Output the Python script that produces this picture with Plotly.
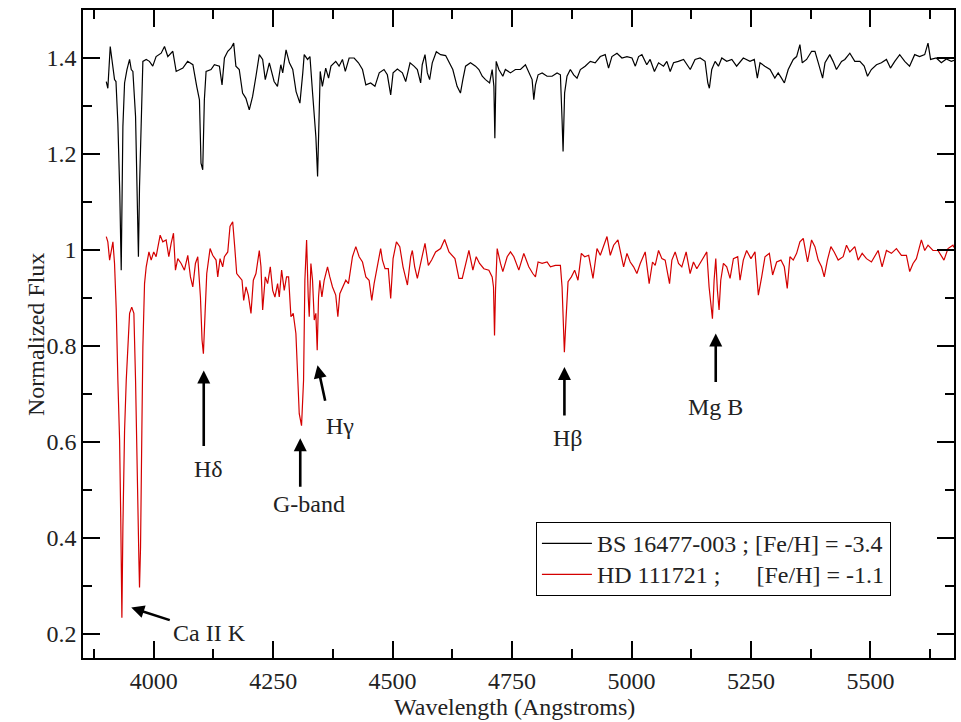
import plotly.graph_objects as go

# BS 16477-003 (black), wavelength in Angstrom, normalized flux (offset)
bs_wave = [3900.7, 3904, 3909, 3913, 3918, 3921, 3925, 3929, 3932, 3935.5, 3939, 3944, 3949.5, 3953, 3956.4,
           3962, 3965.5, 3968, 3970.3, 3973.8, 3977.3, 3984.3, 3991, 3998, 4005, 4015.6, 4022.6, 4029.5,
           4040, 4047, 4061, 4071, 4082, 4090, 4095.7, 4099, 4102.6, 4106, 4109.6, 4120, 4127, 4137.5,
           4143, 4148, 4155, 4162, 4167.4, 4172, 4179, 4186, 4193, 4200, 4207, 4214, 4221, 4228, 4233.5,
           4242, 4252, 4259, 4266, 4270, 4277, 4284, 4291, 4298, 4306, 4312, 4315, 4322, 4327, 4332.5,
           4339.4, 4343, 4346, 4348.5, 4353, 4360, 4366, 4371, 4381, 4388, 4395, 4401, 4409, 4419.5,
           4428.5, 4437, 4444, 4454, 4463, 4472, 4482, 4489, 4496, 4501, 4510, 4520.5, 4527.4, 4536.5,
           4544.8, 4551.8, 4558.7, 4562, 4567.8, 4572.7, 4577.5, 4583, 4591.5, 4600.5, 4611, 4618, 4626,
           4635, 4642, 4647, 4652.7, 4663, 4673.6, 4680.6, 4687.6, 4694.5, 4703, 4708.4, 4712, 4714,
           4716.8, 4722.4, 4730.7, 4736, 4746.7, 4757, 4767.6, 4778, 4785, 4792, 4795.5, 4799, 4804.5,
           4813, 4823.3, 4833.8, 4844.2, 4851.2, 4854.7, 4856.8, 4860, 4865, 4872, 4879, 4886, 4893,
           4903, 4913.8, 4924, 4934.7, 4945, 4952, 4959, 4969.6, 4980, 4990.5, 5001, 5008, 5014.8,
           5021.8, 5032, 5039, 5048, 5056.6, 5067, 5074, 5081, 5088, 5098, 5109, 5123, 5133, 5143.6,
           5154, 5159.7, 5163, 5168, 5175, 5182, 5189, 5199.3, 5210, 5220, 5234, 5248, 5257, 5263.4,
           5269, 5279, 5290, 5300, 5307, 5314, 5320, 5328, 5338.6, 5345.6, 5352.5, 5357.4, 5366.5, 5377,
           5384, 5391, 5400, 5405, 5415, 5422, 5429, 5439.6, 5446.5, 5457, 5467.4, 5478, 5487, 5494,
           5502, 5512.7, 5523, 5533.6, 5542, 5551, 5561.4, 5571.9, 5582, 5592.7, 5603, 5613.7, 5620.6,
           5626, 5638, 5648.5, 5659, 5669.4, 5675]
bs_flux = [1.351, 1.337, 1.424, 1.397, 1.355, 1.351, 1.264, 1.118, 0.958, 1.257, 1.348, 1.376, 1.397, 1.376, 1.372,
           1.278, 1.132, 0.986, 1.132, 1.278, 1.393, 1.397, 1.393, 1.383, 1.403, 1.410, 1.424, 1.403,
           1.414, 1.372, 1.379, 1.393, 1.386, 1.341, 1.313, 1.181, 1.167, 1.313, 1.372, 1.376, 1.386, 1.383,
           1.344, 1.400, 1.414, 1.421, 1.431, 1.383, 1.376, 1.327, 1.316, 1.292, 1.320, 1.362, 1.407, 1.397, 1.355,
           1.390, 1.351, 1.341, 1.386, 1.369, 1.417, 1.390, 1.376, 1.330, 1.306, 1.369, 1.407, 1.397, 1.403, 1.327,
           1.236, 1.153, 1.271, 1.372, 1.341, 1.379, 1.358, 1.383, 1.393, 1.383, 1.397, 1.372, 1.400, 1.400,
           1.390, 1.376, 1.344, 1.348, 1.341, 1.369, 1.376, 1.365, 1.323, 1.369, 1.377, 1.369, 1.351, 1.390,
           1.383, 1.376, 1.348, 1.386, 1.407, 1.369, 1.355, 1.390, 1.413, 1.407, 1.405, 1.390, 1.376,
           1.341, 1.327, 1.355, 1.383, 1.390, 1.383, 1.376, 1.362, 1.355, 1.348, 1.376, 1.341, 1.233,
           1.393, 1.376, 1.362, 1.376, 1.369, 1.376, 1.376, 1.386, 1.369, 1.355, 1.313, 1.344, 1.365,
           1.369, 1.362, 1.362, 1.369, 1.365, 1.271, 1.205, 1.327, 1.362, 1.376, 1.365, 1.358, 1.376,
           1.383, 1.393, 1.390, 1.403, 1.407, 1.379, 1.403, 1.410, 1.400, 1.403, 1.400, 1.383, 1.403,
           1.407, 1.386, 1.397, 1.372, 1.390, 1.383, 1.393, 1.372, 1.390, 1.393, 1.397, 1.376, 1.397, 1.400,
           1.393, 1.348, 1.337, 1.376, 1.393, 1.383, 1.400, 1.393, 1.397, 1.383, 1.400, 1.393, 1.397, 1.358,
           1.390, 1.383, 1.376, 1.358, 1.369, 1.358, 1.348, 1.376, 1.397, 1.403, 1.428, 1.390, 1.397, 1.414,
           1.414, 1.390, 1.358, 1.390, 1.407, 1.393, 1.376, 1.393, 1.397, 1.410, 1.393, 1.393, 1.383, 1.362,
           1.376, 1.386, 1.390, 1.397, 1.379, 1.393, 1.407, 1.393, 1.383, 1.407, 1.403, 1.407, 1.431,
           1.397, 1.400, 1.390, 1.398, 1.393, 1.395]

# HD 111721 (red)
hd_wave = [3900.7, 3904, 3907.7, 3911, 3914.6, 3918, 3921.6, 3925, 3928.6, 3931, 3933.4, 3935.5, 3939,
           3942.5, 3949.5, 3954, 3958.5, 3962, 3964.7, 3966.9, 3968.9, 3970.3, 3972.4, 3975.2, 3977.3,
           3980.8, 3984.3, 3990, 3994.7, 4000, 4005, 4013.5, 4019, 4026, 4031.6, 4036.5, 4041.4, 4045.5,
           4050.4, 4057.4, 4064.3, 4071.3, 4076.9, 4081.8, 4087.3, 4092.2, 4097.8, 4101.2, 4104, 4107.5,
           4111, 4118, 4123.5, 4130.5, 4134, 4138.8, 4144.4, 4148, 4155, 4159.7, 4165.3, 4169.5, 4173.7,
           4179.2, 4184.8, 4188.3, 4193.2, 4198, 4203.6, 4208.5, 4214, 4221, 4224.5, 4228, 4233.5, 4238.4,
           4244, 4249, 4253.7, 4259.3, 4262.8, 4267.7, 4273.2, 4278, 4282.3, 4287.2, 4292, 4297.6, 4301,
           4304.6, 4309.4, 4313.6, 4316.4, 4320, 4323.4, 4325.5, 4329, 4332.4, 4336, 4339.4, 4342.2, 4345,
           4347.7, 4352, 4356.8, 4363.8, 4368.6, 4374.2, 4381, 4385.4, 4389.5, 4395, 4402, 4407.6, 4416,
           4423, 4430, 4437, 4444, 4450.8, 4456.4, 4461.3, 4468.2, 4475, 4478.7, 4484.2, 4491, 4496, 4501,
           4508, 4515, 4521.8, 4531, 4537.9, 4541.3, 4546.2, 4551.8, 4558.7, 4567.8, 4574.8, 4581.7, 4590,
           4600.5, 4608.9, 4618, 4630.5, 4638.8, 4645.8, 4652.7, 4659.7, 4668, 4675, 4682, 4691, 4701.5,
           4708.4, 4711.2, 4713.3, 4715.4, 4718.9, 4725.8, 4730.7, 4739.8, 4746.7, 4753.7, 4764.2, 4774.6,
           4785, 4793.4, 4799, 4804.5, 4813, 4823.3, 4830.3, 4840.7, 4851.2, 4854.7, 4857.5, 4859.5, 4863,
           4867.2, 4874.2, 4881, 4888, 4895, 4902, 4910.4, 4919.4, 4927.8, 4934.7, 4941.7, 4948.7, 4955.6,
           4962.6, 4971.6, 4976.5, 4983.5, 4990.5, 4997.4, 5004.4, 5011.3, 5018.3, 5028.7, 5037, 5044,
           5049.6, 5056.6, 5063.6, 5070.5, 5079.6, 5084.5, 5091.4, 5098.4, 5105.3, 5114.4, 5122.7, 5129.7,
           5136.7, 5147, 5157.6, 5162.4, 5166.6, 5169.4, 5172.9, 5176.4, 5179.8, 5183.3, 5186.8, 5192.4,
           5199.3, 5206.3, 5213.3, 5222.3, 5227.2, 5234, 5241, 5250, 5258.5, 5265.5, 5272.5, 5279.4,
           5288.5, 5295.4, 5303.8, 5312.8, 5319.8, 5326, 5331.6, 5338.6, 5345.6, 5352.5, 5359.5, 5368.5,
           5376.9, 5383.9, 5390.8, 5397.8, 5403.4, 5410, 5417.3, 5424.2, 5432.6, 5443, 5450, 5457, 5467.4,
           5474.4, 5482.8, 5491.8, 5502.2, 5516.2, 5524.5, 5533.6, 5544, 5554.5, 5564.9, 5575.4, 5582.3,
           5589.3, 5596.3, 5606.7, 5613.7, 5620.6, 5631, 5641.5, 5654, 5662.4, 5672.8, 5675]
hd_flux = [1.028, 1.017, 0.979, 0.996, 1.017, 0.972, 0.875, 0.728, 0.603, 0.443, 0.234, 0.422, 0.624,
           0.728, 0.868, 0.881, 0.868, 0.728, 0.610, 0.485, 0.359, 0.297, 0.380, 0.624, 0.798,
           0.930, 0.965, 0.996, 0.979, 0.996, 0.986, 1.031, 1.017, 1.021, 0.986, 1.014, 1.035, 0.958,
           0.982, 0.972, 0.958, 0.989, 0.944, 0.923, 0.972, 0.986, 0.902, 0.812, 0.784, 0.868,
           0.951, 1.003, 0.989, 0.979, 0.944, 0.982, 0.965, 0.986, 0.996, 1.049, 1.059, 1.007, 0.951,
           0.944, 0.937, 0.895, 0.923, 0.906, 0.868, 0.937, 0.951, 0.999, 0.965, 0.875, 0.944, 0.930,
           0.965, 0.916, 0.902, 0.930, 0.902, 0.958, 0.916, 0.944, 0.944, 0.861, 0.868, 0.826, 0.728,
           0.659, 0.634, 0.728, 0.937, 1.021, 0.902, 0.861, 0.972, 0.937, 0.854, 0.868, 0.791, 0.902,
           0.937, 0.902, 0.937, 0.965, 0.944, 0.923, 0.906, 0.861, 0.909, 0.923, 0.937, 0.930, 0.986,
           1.007, 0.986, 0.975, 0.944, 0.937, 0.895, 0.930, 0.965, 1.003, 0.979, 0.961, 0.961, 0.899, 0.982,
           1.017, 1.007, 0.965, 0.927, 0.986, 0.999, 0.965, 0.941, 0.972, 1.014, 0.968, 0.979, 0.996,
           1.003, 1.022, 0.996, 0.982, 0.941, 0.941, 0.972, 0.999, 0.958, 0.986, 0.972, 0.961, 0.958,
           0.944, 0.923, 0.822, 0.916, 1.003, 0.972, 0.955, 0.986, 0.996, 0.986, 0.958, 0.993,
           0.965, 0.951, 0.944, 0.975, 0.972, 0.975, 0.965, 0.968, 0.968, 0.923, 0.854, 0.787, 0.857,
           0.934, 0.944, 0.958, 0.937, 0.993, 0.986, 0.989, 0.941, 1.003, 0.989, 1.010, 1.028, 0.989,
           1.010, 1.021, 0.996, 0.965, 0.993, 0.975, 0.965, 0.951, 0.972, 0.996, 0.930, 0.975,
           0.968, 0.999, 0.982, 0.979, 0.930, 0.979, 0.996, 0.972, 0.965, 0.996, 0.951, 0.975,
           0.961, 0.979, 0.996, 0.923, 0.875, 0.857, 0.937, 0.982, 0.916, 0.875, 0.937, 0.972,
           0.965, 0.941, 0.982, 0.986, 0.937, 0.979, 0.999, 0.982, 0.996, 0.906, 0.944, 0.986,
           0.993, 0.948, 0.975, 0.979, 0.965, 0.920, 0.986, 0.979, 0.993, 1.017, 1.024, 0.975,
           1.021, 1.007, 0.979, 0.965, 0.944, 0.979, 1.007, 0.996, 0.979, 0.986, 1.010, 0.996, 1.007,
           0.979, 0.993, 0.982, 0.975, 0.999, 0.965, 0.999, 0.993, 1.003, 0.989, 0.989, 0.955,
           0.972, 0.982, 1.021, 0.999, 1.010, 0.999, 0.999, 0.979, 1.003, 1.010, 1.005]

series_names = ["BS 16477-003 ; [Fe/H] = -3.4",
                "HD 111721 ;\u00a0\u00a0\u00a0\u00a0\u00a0\u00a0[Fe/H] = -1.1"]
series_colors = ["#000000", "#d40000"]

# Line identifications: label, tip (wavelength, flux), tail offset (px), label position (wavelength, flux)
line_labels = ["Ca II K", "H\u03b4", "G-band", "H\u03b3", "H\u03b2", "Mg B"]
tip_wave = [3953.0, 4104.7, 4306.7, 4342.8, 4859.6, 5176.3]
tip_flux = [0.255, 0.749, 0.608, 0.760, 0.756, 0.826]
tail_dx = [40, 0, 0, 8, 0, 0]
tail_dy = [13, 77, 50, 37, 50, 50]
label_wave = [4116.6, 4114.5, 4324.0, 4389.8, 4866.5, 5175.7]
label_flux = [0.202, 0.544, 0.471, 0.633, 0.609, 0.672]

FONT = "Liberation Serif, Times New Roman, serif"
TXT = "#222222"

fig = go.Figure()
for wave, flux, name, color in [(bs_wave, bs_flux, series_names[0], series_colors[0]),
                                (hd_wave, hd_flux, series_names[1], series_colors[1])]:
    fig.add_trace(go.Scatter(x=wave, y=flux, mode="lines",
                             name='<span style="font-size:24px">' + name + '</span>',
                             line=dict(color=color, width=1.2)))

for i in range(len(line_labels)):
    fig.add_annotation(x=tip_wave[i], y=tip_flux[i], xref="x", yref="y", text="",
                       showarrow=True, ax=tail_dx[i], ay=tail_dy[i], arrowhead=2,
                       arrowsize=1.0, arrowwidth=2.6, arrowcolor="black", standoff=0)
    fig.add_annotation(x=label_wave[i], y=label_flux[i], xref="x", yref="y",
                       text=line_labels[i], showarrow=False, xanchor="center", yanchor="middle",
                       font=dict(family=FONT, size=24, color=TXT))

# axis titles
fig.add_annotation(x=0.495, y=-0.075, xref="paper", yref="paper", text="Wavelength (Angstroms)",
                   showarrow=False, xanchor="center", yanchor="middle",
                   font=dict(family=FONT, size=24, color=TXT))
fig.add_annotation(x=-0.054, y=0.5, xref="paper", yref="paper", text="Normalized Flux",
                   showarrow=False, xanchor="center", yanchor="middle", textangle=-90,
                   font=dict(family=FONT, size=24, color=TXT))

axis_common = dict(showline=True, linecolor="black", linewidth=1.5, mirror="allticks",
                   ticks="inside", ticklen=17, tickwidth=1.5, tickcolor="black",
                   showgrid=False, zeroline=False,
                   tickfont=dict(family=FONT, size=24, color=TXT))

fig.update_xaxes(range=[3852, 5675], dtick=250, tick0=4000,
                 minor=dict(dtick=125, tick0=3875, ticks="inside", ticklen=9, tickwidth=1.5, tickcolor="black"),
                 **axis_common)
fig.update_yaxes(range=[0.15, 1.5], dtick=0.2, tick0=0.2,
                 minor=dict(dtick=0.1, tick0=0.1, ticks="inside", ticklen=9, tickwidth=1.5, tickcolor="black"),
                 **axis_common)

fig.update_layout(
    width=961, height=722,
    margin=dict(l=83, r=5, t=10, b=64),
    paper_bgcolor="white", plot_bgcolor="white",
    showlegend=True,
    legend=dict(x=0.52, y=0.21, xanchor="left", yanchor="top",
                bordercolor="black", borderwidth=1, bgcolor="white",
                font=dict(family=FONT, size=21.5, color=TXT),
                itemwidth=50),
)

fig.write_html("out.html", config={"displayModeBar": False},
               post_script="document.body.style.margin='0';document.body.style.overflow='hidden';")
